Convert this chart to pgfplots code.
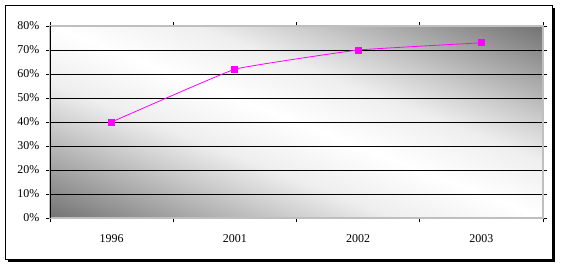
\documentclass[border=0pt]{standalone}
\usepackage{fontspec}
\setmainfont{Liberation Serif}
\usepackage{pgfplots}
\pgfplotsset{compat=1.18}
\definecolor{gA}{RGB}{114,114,114}
\definecolor{gB}{RGB}{160,160,160}
\definecolor{gC}{RGB}{205,205,205}
\definecolor{gD}{RGB}{238,238,238}
\definecolor{mag}{RGB}{255,0,255}
\pgfdeclarehorizontalshading{bgdiag}{100bp}{color(0bp)=(gA); color(25bp)=(gA); color(31.25bp)=(gB); color(37.5bp)=(gC); color(42.5bp)=(gD); color(50bp)=(white); color(57.5bp)=(gD); color(62.5bp)=(gC); color(68.75bp)=(gB); color(75bp)=(gA); color(100bp)=(gA)}
\begin{document}
\fontsize{12}{14}\selectfont
\begin{tikzpicture}
\path[use as bounding box] (0,0) rectangle (561bp,267bp);
\fill[black] (8bp,4.5bp) rectangle (555bp,259bp);
\draw[fill=white, line width=1bp] (5.5bp,7.5bp) rectangle (552bp,261.5bp);
\begin{scope}
\clip (50bp,49bp) rectangle (543bp,241bp);
\begin{scope}[transform canvas={shift={(296.5bp,145bp)}, rotate=68.7}]
\shade[shading=bgdiag] (-179bp,-400bp) rectangle (179bp,400bp);
\end{scope}
\end{scope}
\begin{axis}[
  at={(50bp,49bp)}, anchor=south west,
  scale only axis, width=493bp, height=192bp,
  xmin=-0.5, xmax=3.5, ymin=0, ymax=80,
  xtick={-0.5,0.5,1.5,2.5,3.5}, xticklabels={},
  extra x ticks={0,1,2,3},
  extra x tick labels={1996,2001,2002,2003},
  extra x tick style={major tick length=0pt, xticklabel style={yshift=-12bp}},
  ytick={0,10,...,80},
  yticklabel={\pgfmathprintnumber{\tick}\%},
  yticklabel style={xshift=-2.5bp},
  ymajorgrids,
  grid style={black, line width=0.8bp},
  tick align=outside, major tick length=4bp,
  tick style={black, line width=0.8bp},
  axis line style={draw=black!25, line width=1.5bp},
  tick label style={font=\fontsize{12}{14}\selectfont},
  /pgf/number format/assume math mode=true,
]
\addplot[mag, line width=0.8bp, mark=square*, mark size=3bp, smooth, tension=0.15,
  mark options={solid, fill=mag}] coordinates {(0,40) (1,62) (2,70) (3,73)};
\draw[black, line width=0.8bp] (rel axis cs:0,1) -- (rel axis cs:0,0) -- (rel axis cs:1,0);
\end{axis}
\end{tikzpicture}
\end{document}
